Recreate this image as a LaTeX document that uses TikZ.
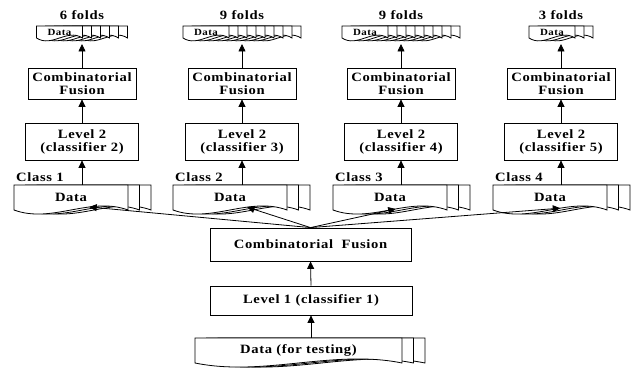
\documentclass[tikz,border=0pt]{standalone}
\usepackage{fontspec}
\setmainfont{Liberation Serif}[FakeStretch=1.15,LetterSpace=5]
\usetikzlibrary{arrows.meta,calc}
\newcommand\mainfnt{\fontsize{12.7}{13}\selectfont\bfseries}
\newcommand\smallfnt{\fontsize{9.5}{10}\selectfont\bfseries}
\def\wavepos{0.38}
% #1 name, #2 x, #3 y, #4 W, #5 H, #6 wave, #7 back pages, #8 offset, #9 text
\newcommand\mydoc[9]{%
  \foreach \k in {#7,...,1}{%
    \path[docline] ({#2+\k*#8},#3) -- ++(#4,0) -- ++(0,#5)
      .. controls +({-#4/3},-#6) and +({#4/3},#6) .. ++(-#4,0) -- cycle;
  }%
  \path[docline] (#2,#3) -- ++(#4,0) -- ++(0,#5)
      .. controls +({-#4/3},-#6) and +({#4/3},#6) .. ++(-#4,0) coordinate[pos=\wavepos] (#1w) -- cycle;
  \node[docnode, minimum width=#4pt, minimum height=#5pt] (#1) at ({#2+#4/2},{#3+#5/2}) {#9};
}
\tikzset{
  box/.style={draw, line width=0.8pt, inner sep=0pt, align=center, font=\mainfnt},
  docline/.style={draw, fill=white, line width=0.8pt},
  docnode/.style={inner sep=0pt, font=\mainfnt},
  arr/.style={-{Triangle[length=7.5pt,width=7pt]}, line width=0.8pt},
  lbl/.style={inner sep=0pt, font=\mainfnt},
}
\begin{document}
\begin{tikzpicture}[x=1pt,y=-1pt]
\useasboundingbox (0,0) rectangle (633,374);
% top strips
\tikzset{docnode/.append style={font=\smallfnt}}
\mydoc{s1}{36.5}{26}{46}{12}{10}{5}{9}{Data}
\mydoc{s2}{183}{26}{46}{12}{10}{8}{9}{Data}
\mydoc{s3}{342}{26}{46}{12}{10}{8}{9}{Data}
\mydoc{s4}{529}{26}{46}{12}{10}{2}{9}{Data}
\tikzset{docnode/.style={inner sep=0pt, font=\mainfnt}}
\node[lbl] (f1) at (82,15) {6 folds};
\node[lbl] (f2) at (242,15) {9 folds};
\node[lbl] (f3) at (401,15) {9 folds};
\node[lbl] (f4) at (561,15) {3 folds};
\coordinate (t1) at (82,44);
\coordinate (t2) at (242,44);
\coordinate (t3) at (401,44);
\coordinate (t4) at (561,44);
% fusion boxes
\foreach \i/\x in {1/82,2/242,3/401,4/561}{
  \node[box, minimum width=108pt, minimum height=31pt] (cf\i) at (\x,83.5) {Combinatorial\\Fusion};
}
\node[box, minimum width=113pt, minimum height=37pt] (l1) at (82,141.5) {Level 2\\(classifier 2)};
\node[box, minimum width=113pt, minimum height=37pt] (l2) at (242,141.5) {Level 2\\(classifier 3)};
\node[box, minimum width=113pt, minimum height=37pt] (l3) at (401,141.5) {Level 2\\(classifier 4)};
\node[box, minimum width=113pt, minimum height=37pt] (l4) at (561,141.5) {Level 2\\(classifier 5)};
% class documents
\def\wavepos{0.34}
\mydoc{c1}{14}{185}{114}{25}{14}{2}{11.5}{Data}
\def\wavepos{0.35}
\mydoc{c2}{173}{185}{114}{25}{14}{2}{11.5}{Data}
\def\wavepos{0.45}
\mydoc{c3}{333}{185}{114}{25}{14}{2}{11.5}{Data}
\def\wavepos{0.41}
\mydoc{c4}{493}{185}{114}{25}{14}{2}{11.5}{Data}
\node[lbl, anchor=west] (k1) at (16,177) {Class 1};
\node[lbl, anchor=west] (k2) at (175,177) {Class 2};
\node[lbl, anchor=west] (k3) at (335,177) {Class 3};
\node[lbl, anchor=west] (k4) at (495,177) {Class 4};
% central part
\node[box, minimum width=201pt, minimum height=33pt] (cf0) at (310.5,244.5) {Combinatorial\ \ Fusion};
\node[box, minimum width=202pt, minimum height=29pt] (lv1) at (311,300.5) {Level 1 (classifier 1)};
\def\wavepos{0.4}
\mydoc{td}{195}{338}{207}{25}{14}{2}{11.5}{Data (for testing)}
% connectors
\foreach \i in {1,2,3,4}{
  \draw[arr] (cf\i.north) -- (t\i);
  \draw[arr] (l\i.north) -- (cf\i.south);
  \draw[arr] (l\i.south |- c\i.north) -- (l\i.south);
  \draw[arr] (cf0.north) -- (c\i w);
}
\draw[arr] (lv1.north) -- (cf0.south);
\draw[arr] (lv1.south |- td.north) -- (lv1.south);
\end{tikzpicture}
\end{document}
